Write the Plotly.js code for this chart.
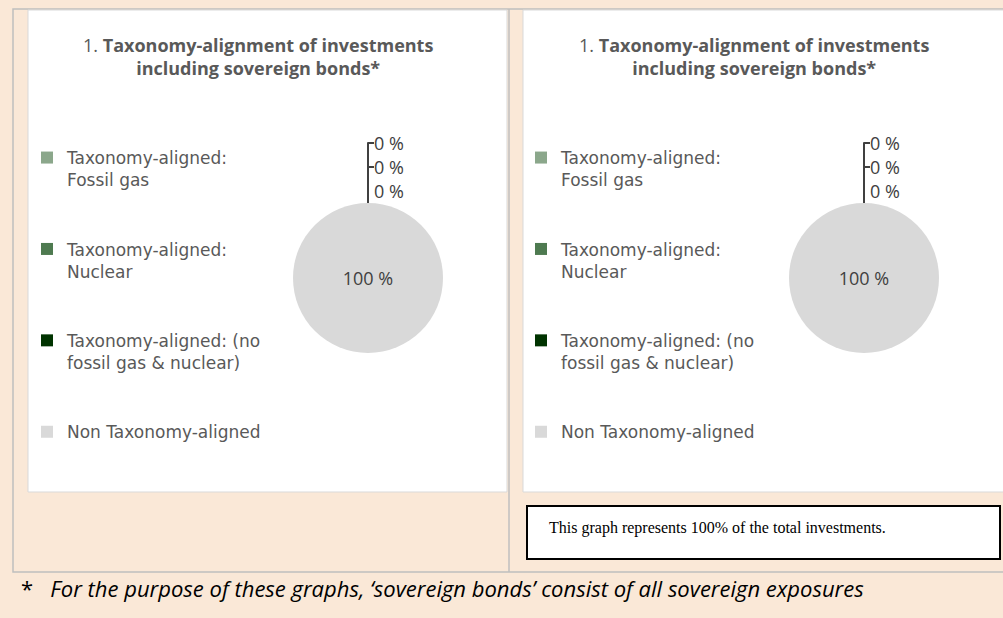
<!DOCTYPE html>
<html><head><meta charset="utf-8">
<script src="https://cdn.plot.ly/plotly-3.0.1.min.js"></script>
<style>html,body{margin:0;padding:0;background:#FAE8D7;}#chart{width:1003px;height:618px;}</style>
</head><body><div id="chart"></div>
<script>
// ---- data ----
const categories = ['Taxonomy-aligned:<br>Fossil gas', 'Taxonomy-aligned:<br>Nuclear', 'Taxonomy-aligned: (no<br>fossil gas & nuclear)', 'Non Taxonomy-aligned'];
const valuesLeft = [0, 0, 0, 100];
const valuesRight = [0, 0, 0, 100];
const sliceColors = ['#8BA78B', '#4E7A50', '#003300', '#D9D9D9'];
const panelTitle = '1. <b>Taxonomy-alignment of investments</b><br><b>including sovereign bonds*</b>';
const boxNote = 'This graph represents 100% of the total investments.';
const footnote = '*   <i>For the purpose of these graphs, \u2018sovereign bonds\u2019 consist of all sovereign exposures</i>';

// ---- layout helpers ----
const W = 1003, H = 618;
const px = x => x / W;
const py = y => 1 - y / H;
const FONT = 'Open Sans, sans-serif';
const LEGFONT = 'DejaVu Sans, sans-serif';
const TXT = '#595959';
// legend labels: each two-line entry gets blank lines below so entries are evenly spread
function legendLabels(suffix) {
  return categories.map((c, i) => (i < categories.length - 1 ? c + '<br> <br> ' : c) + suffix);
}

function pie(values, cx, legendId, suffix) {
  return {
    type: 'pie', labels: legendLabels(suffix), values: values, sort: false, direction: 'clockwise', rotation: 0,
    marker: {colors: sliceColors, line: {width: 0}},
    texttemplate: '%{value} %', textinfo: 'text',
    textposition: ['outside', 'outside', 'outside', 'inside'],
    textfont: {family: FONT, size: 18, color: '#404040'},
    insidetextorientation: 'horizontal', automargin: false,
    domain: {x: [px(cx - 75), px(cx + 75)], y: [py(353), py(203)]},
    legend: legendId, hoverinfo: 'label+value'
  };
}

const data = [pie(valuesLeft, 368, 'legend', ''), pie(valuesRight, 864, 'legend2', '\u200b')];

const legendBase = {bgcolor: 'rgba(0,0,0,0)', borderwidth: 0, valign: 'top', xanchor: 'left', yanchor: 'top',
  font: {family: LEGFONT, size: 17, color: TXT}, traceorder: 'normal'};

const shapes = [
  {type: 'rect', xref: 'paper', yref: 'paper', x0: px(13), x1: px(1010), y0: py(9), y1: py(572), line: {color: '#BFBFBF', width: 1.5}, fillcolor: 'rgba(0,0,0,0)', layer: 'below'},
  {type: 'line', xref: 'paper', yref: 'paper', x0: px(509), x1: px(509), y0: py(9), y1: py(572), line: {color: '#BFBFBF', width: 1.5}, layer: 'below'},
  {type: 'rect', xref: 'paper', yref: 'paper', x0: px(28), x1: px(507), y0: py(10), y1: py(492), line: {color: '#D9D9D9', width: 1}, fillcolor: '#FFFFFF', layer: 'below'},
  {type: 'rect', xref: 'paper', yref: 'paper', x0: px(523), x1: px(1012), y0: py(10), y1: py(492), line: {color: '#D9D9D9', width: 1}, fillcolor: '#FFFFFF', layer: 'below'},
  {type: 'rect', xref: 'paper', yref: 'paper', x0: px(527), x1: px(1000), y0: py(506), y1: py(559), line: {color: '#000000', width: 2}, fillcolor: '#FFFFFF', layer: 'below'}
];

const annotations = [
  {xref: 'paper', yref: 'paper', x: px(258), y: py(57), text: panelTitle, showarrow: false, xanchor: 'center', yanchor: 'middle', align: 'center', font: {family: FONT, size: 18, color: TXT}},
  {xref: 'paper', yref: 'paper', x: px(754), y: py(57), text: panelTitle, showarrow: false, xanchor: 'center', yanchor: 'middle', align: 'center', font: {family: FONT, size: 18, color: TXT}},
  {xref: 'paper', yref: 'paper', x: px(547), y: py(528), text: boxNote, showarrow: false, xanchor: 'left', yanchor: 'middle', font: {family: 'Liberation Serif, Times New Roman, serif', size: 16, color: '#000000'}},
  {xref: 'paper', yref: 'paper', x: px(19), y: py(588), text: footnote, showarrow: false, xanchor: 'left', yanchor: 'middle', font: {family: FONT, size: 22, color: '#000000'}}
];

const layout = {
  width: W, height: H, margin: {l: 0, r: 0, t: 0, b: 0},
  paper_bgcolor: '#FAE8D7', plot_bgcolor: 'rgba(0,0,0,0)',
  showlegend: true,
  legend: Object.assign({x: px(27), y: py(140)}, legendBase),
  legend2: Object.assign({x: px(521), y: py(140)}, legendBase),
  shapes: shapes, annotations: annotations
};

Plotly.newPlot('chart', data, layout, {displayModeBar: false, staticPlot: true});
</script></body></html>
